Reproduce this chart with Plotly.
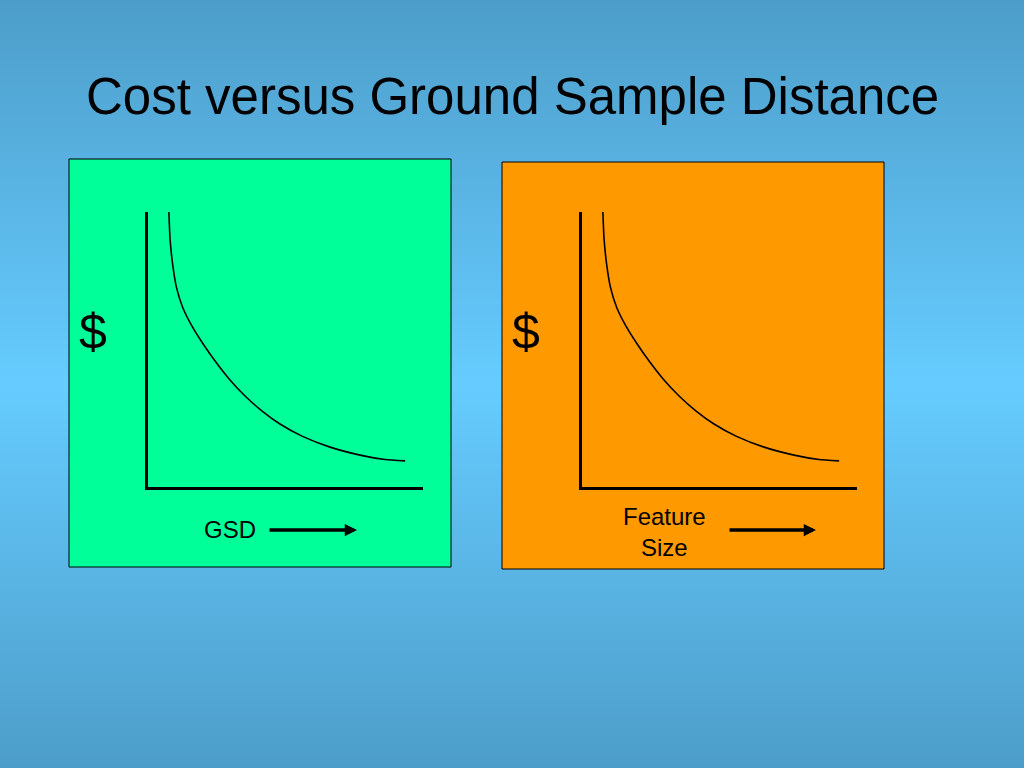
import plotly.graph_objects as go

# ---- data ----
title_text = "Cost versus Ground Sample Distance"
panel_colors = ["#00FF99", "#FF9900"]
y_labels = ["$", "$"]
x_labels = ["GSD", "Feature<br>Size"]
# cost curve (arbitrary units, axis range 0-10)
curve_x = [0.76, 0.80, 0.90, 1.04, 1.27, 1.60, 2.00, 2.44, 2.95, 3.53, 4.15, 4.80, 5.60, 6.62, 7.71, 8.62, 9.35]
curve_y = [10.0, 9.05, 8.07, 7.24, 6.51, 5.85, 5.21, 4.58, 3.93, 3.31, 2.76, 2.29, 1.85, 1.45, 1.16, 1.00, 0.95]

W, H = 1024, 768
FONT = "Liberation Sans, Arial, sans-serif"

def px(x):
    return x / W

def py(y):
    return 1 - y / H

fig = go.Figure()

# ---- background gradient (stripes) ----
top = (77, 157, 201)
mid = (102, 204, 255)
shapes = []
step = 4
for y0 in range(0, H, step):
    t = abs((y0 + step / 2) - H / 2) / (H / 2)
    c = tuple(int(round(mid[i] + (top[i] - mid[i]) * t)) for i in range(3))
    shapes.append(dict(type="rect", xref="paper", yref="paper", layer="below",
                       x0=0, x1=1, y0=py(y0 + step + 0.5), y1=py(y0),
                       fillcolor="rgb(%d,%d,%d)" % c, line=dict(width=0)))

# ---- panel boxes ----
boxes = [(69, 159, 451, 567), (502, 162, 884, 569)]
for (x0, y0, x1, y1), col in zip(boxes, panel_colors):
    shapes.append(dict(type="rect", xref="paper", yref="paper", layer="below",
                       x0=px(x0), x1=px(x1), y0=py(y1), y1=py(y0),
                       fillcolor=col, line=dict(color="black", width=1)))

# ---- curves ----
axis_px = [(148, 423), (582, 857)]
y_top, y_bot = 212, 487
for i, (a0, a1) in enumerate(axis_px):
    sfx = "" if i == 0 else str(i + 1)
    fig.add_trace(go.Scatter(x=curve_x, y=curve_y, mode="lines",
                             line=dict(color="black", width=1.6, shape="spline", smoothing=0.5),
                             cliponaxis=False, hoverinfo="skip", showlegend=False,
                             xaxis="x" + sfx, yaxis="y" + sfx))
    ax = dict(domain=[px(a0), px(a1)], range=[0, 10], showline=True, linewidth=3,
              linecolor="black", showgrid=False, zeroline=False, showticklabels=False,
              ticks="", fixedrange=True)
    ayx = dict(domain=[py(y_bot), py(y_top)], range=[0, 10], showline=True, linewidth=3,
               linecolor="black", showgrid=False, zeroline=False, showticklabels=False,
               ticks="", fixedrange=True)
    fig.layout["xaxis" + sfx] = dict(ax, anchor="y" + sfx)
    fig.layout["yaxis" + sfx] = dict(ayx, anchor="x" + sfx)

# ---- text annotations ----
annotations = [
    dict(text=title_text, x=0.5, y=py(96), xref="paper", yref="paper",
         showarrow=False, font=dict(family=FONT, size=51, color="black"),
         xanchor="center", yanchor="middle"),
]
dollar_pos = [(93, 332), (526, 332)]
for (x, y), t in zip(dollar_pos, y_labels):
    annotations.append(dict(text=t, x=px(x), y=py(y), xref="paper", yref="paper",
                            showarrow=False, font=dict(family=FONT, size=50, color="black"),
                            xanchor="center", yanchor="middle"))
label_pos = [(230, 529), (664, 532)]
for (x, y), t in zip(label_pos, x_labels):
    annotations.append(dict(text=t, x=px(x), y=py(y), xref="paper", yref="paper",
                            showarrow=False, font=dict(family=FONT, size=24, color="black"),
                            xanchor="center", yanchor="middle"))
arrows = [(268, 357, 530), (728, 816, 530)]
for (xt, xh, y) in arrows:
    annotations.append(dict(text="", x=px(xh), y=py(y), xref="paper", yref="paper",
                            ax=xt - xh, ay=0, showarrow=True, arrowhead=2, arrowsize=0.7,
                            arrowwidth=3.5, arrowcolor="black", standoff=0, startstandoff=0))

fig.update_layout(width=W, height=H, margin=dict(l=0, r=0, t=0, b=0),
                  paper_bgcolor="rgb(90,180,228)", plot_bgcolor="rgba(0,0,0,0)",
                  shapes=shapes, annotations=annotations, showlegend=False)

fig.write_html("out.html", config={"displayModeBar": False},
               post_script="document.body.style.margin='0';document.body.style.overflow='hidden';")
